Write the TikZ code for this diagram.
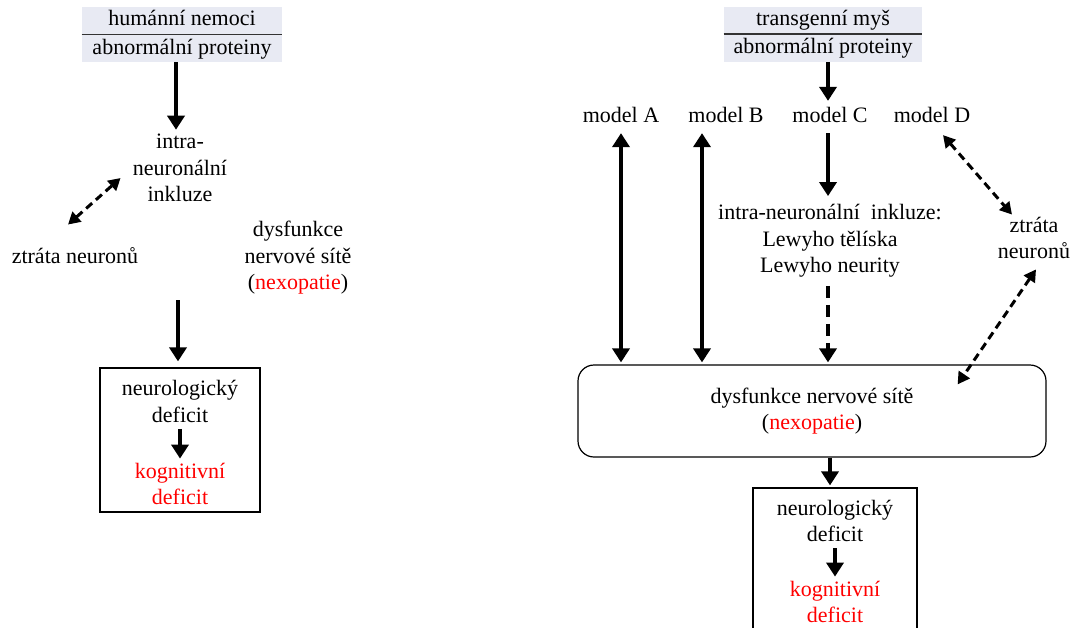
\documentclass[tikz,border=0pt]{standalone}
\usepackage{fontspec}
\setmainfont{Liberation Serif}
\usetikzlibrary{positioning,arrows.meta}
\definecolor{hdrfill}{RGB}{232,234,243}

\begin{document}
\begin{tikzpicture}[x=0.5pt, y=-0.5pt,
    txt/.style={align=center, inner sep=0pt, font=\fontsize{11}{13.25}\selectfont},
    hdr/.style={txt, fill=hdrfill, minimum width=100pt, minimum height=27.5pt},
    bigarrow/.style={-{Triangle[width=8.5pt,length=7pt]}, line width=2pt},
    bigboth/.style={{Triangle[width=8.5pt,length=7pt]}-{Triangle[width=8.5pt,length=7pt]}, line width=2pt},
    dasharrow/.style={{Triangle[width=6.5pt,length=6pt]}-{Triangle[width=6.5pt,length=6pt]}, line width=1.5pt, dash pattern=on 4pt off 2.5pt}]
\useasboundingbox (0,0) rectangle (1074,627);

% left: human disease
\node[hdr] (hL) at (182,34.5) {humánní nemoci\\[1pt]abnormální proteiny};
\draw[line width=0.8pt, black!80] (hL.west) -- (hL.east);
\node[txt] (inclL) at (180,168) {intra-\\neuronální\\inkluze};
\node[txt] (lossL) at (75,256) {ztráta neuronů};
\node[txt] (dysL) at (298,258) {dysfunkce\\nervové sítě\\(\textcolor{red}{nexopatie})};
\node[draw, line width=0.6pt, minimum width=80pt, minimum height=72pt] (boxL) at (180,440) {};
\node[txt] (neuroL) at (180,401.5) {neurologický\\deficit};
\node[txt, text=red] (kogL) at (180,484) {kognitivní\\deficit};
\coordinate (rowL) at (178,300);

\draw[bigarrow, shorten >=2pt] (hL.south -| 176,0) -- (176,0 |- inclL.north);
\draw[dasharrow] ([xshift=-3.5pt,yshift=11.5pt]lossL.north) -- ([xshift=-6pt,yshift=-5pt]inclL.west);
\draw[bigarrow, shorten >=3pt] (rowL) -- (rowL |- boxL.north);
\draw[bigarrow, shorten <=3pt, shorten >=2pt] (neuroL.south) -- (kogL.north);

% right: transgenic mouse
\node[hdr, minimum width=99pt] (hR) at (823,34) {transgenní myš\\[1pt]abnormální proteiny};
\draw[line width=0.8pt, black!80] (hR.west) -- (hR.east);
\node[txt] (mA) at (621,115) {model A};
\node[txt] (mB) at (726,115) {model B};
\node[txt] (mC) at (830,115) {model C};
\node[txt] (mD) at (932,115) {model D};
\node[txt] (inclR) at (830,241) {intra-neuronální\enspace inkluze:\\Lewyho tělíska\\Lewyho neurity};
\node[txt] (lossR) at (1034,238) {ztráta\\neuronů};
\node[txt, draw, line width=0.6pt, rounded corners=8pt, minimum width=234pt, minimum height=46pt] (dysR) at (812,411) {dysfunkce nervové sítě\\(\textcolor{red}{nexopatie})};
\node[draw, line width=0.6pt, minimum width=82pt, minimum height=72pt] (boxR) at (835,560) {};
\node[txt] (neuroR) at (835,521) {neurologický\\deficit};
\node[txt, text=red] (kogR) at (835,602) {kognitivní\\deficit};

\draw[bigarrow, shorten >=3pt] (hR.south -| 828,0) -- (828,0 |- mC.north);
\draw[bigboth, shorten <=5pt, shorten >=1pt] (mA.south) -- (mA.south |- dysR.north);
\draw[bigboth, shorten <=5pt, shorten >=1pt] ([xshift=-12pt]mB.south) -- ([xshift=-12pt]mB.south |- dysR.north);
\draw[bigarrow, shorten <=5pt, shorten >=4pt] ([xshift=-1pt]mC.south) -- ([xshift=-1pt]mC.south |- inclR.north);
\draw[bigarrow, dash pattern=on 6pt off 3.5pt, shorten <=4pt, shorten >=1pt] ([xshift=-1pt]inclR.south) -- ([xshift=-1pt]inclR.south |- dysR.north);
\draw[dasharrow] ([xshift=5.5pt,yshift=-6pt]mD.south) -- ([xshift=-11pt,yshift=1pt]lossR.north);
\draw[dasharrow] ([xshift=1pt,yshift=-5pt]lossR.south) -- ([xshift=-44.5pt,yshift=-10pt]dysR.north east);
\draw[bigarrow, shorten >=1pt] (dysR.south -| mC) -- (boxR.north -| mC);
\draw[bigarrow, shorten <=3pt, shorten >=2pt] (neuroR.south) -- (kogR.north);
\end{tikzpicture}
\end{document}
